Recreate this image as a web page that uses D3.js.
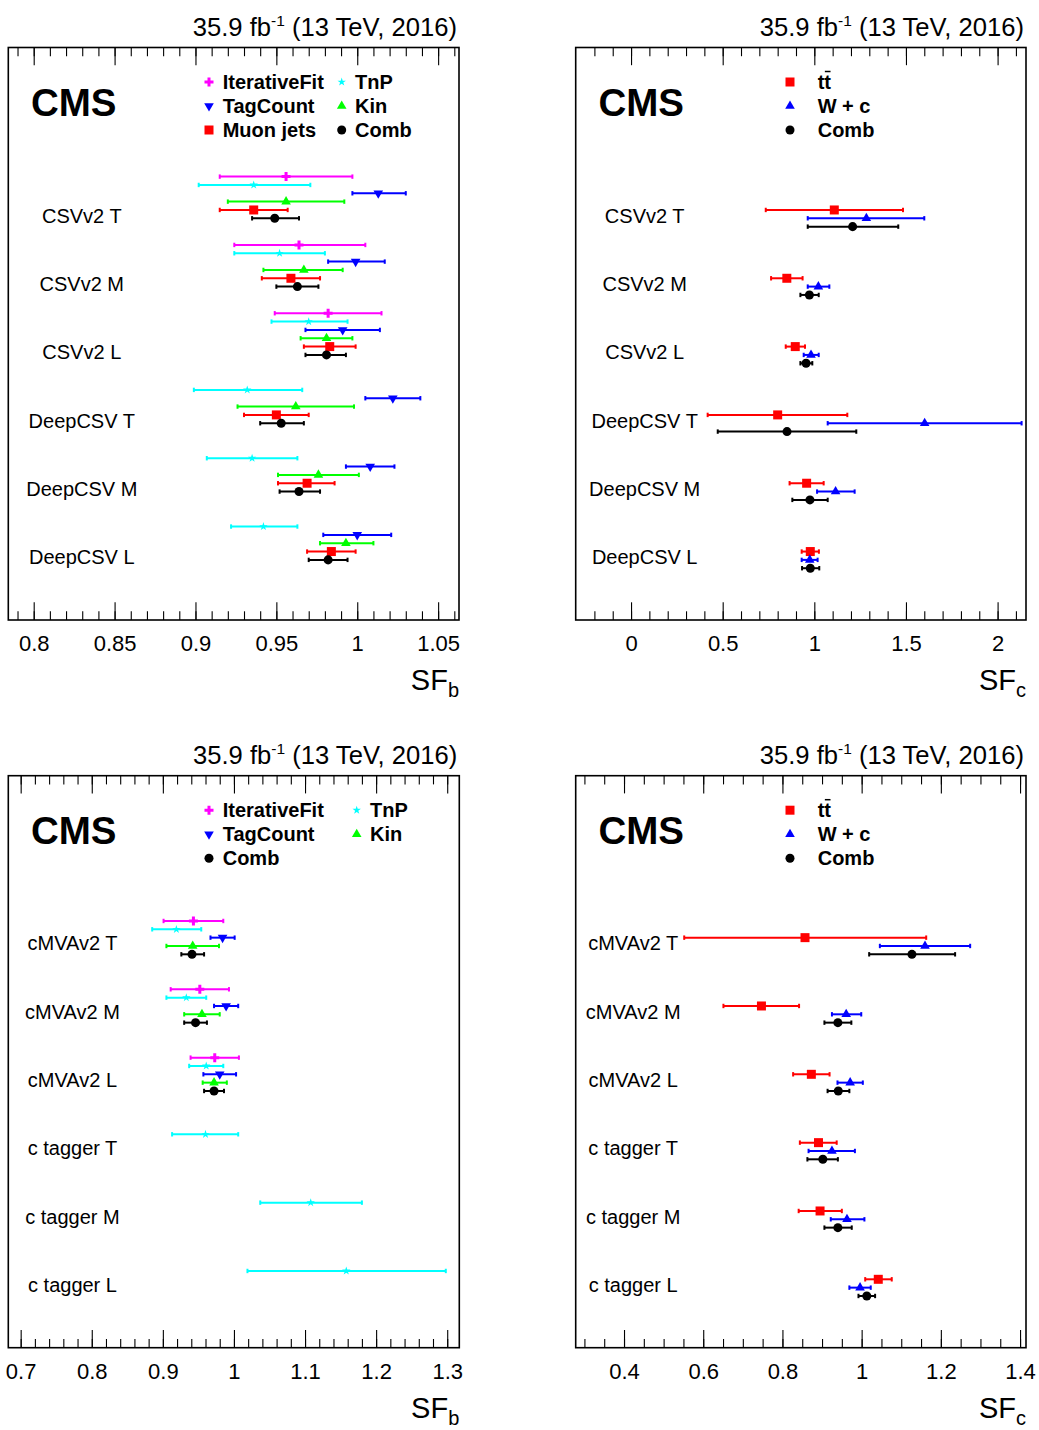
<!DOCTYPE html>
<html>
<head>
<meta charset="utf-8">
<script src="https://cdn.jsdelivr.net/npm/d3@7"></script>
<style>
  body { margin: 0; background: #fff; }
  text { font-family: "Liberation Sans", Arial, Helvetica, sans-serif; }
</style>
</head>
<body>
<div id="main"></div>
<script>
// categories
const catsTop = ["CSVv2 T", "CSVv2 M", "CSVv2 L", "DeepCSV T", "DeepCSV M", "DeepCSV L"];
const catsBot = ["cMVAv2 T", "cMVAv2 M", "cMVAv2 L", "c tagger T", "c tagger M", "c tagger L"];

// SF_b, top panel: [value, low, high], null = no measurement
const iterFitB1 = [[0.956, 0.915, 0.997], [0.964, 0.924, 1.005], [0.982, 0.949, 1.015], null, null, null];
const tnpB1 = [[0.936, 0.902, 0.971], [0.952, 0.924, 0.980], [0.970, 0.947, 0.994], [0.932, 0.899, 0.966], [0.935, 0.907, 0.963], [0.942, 0.922, 0.963]];
const tagCountB1 = [[1.013, 0.997, 1.030], [0.999, 0.982, 1.017], [0.991, 0.968, 1.014], [1.022, 1.005, 1.039], [1.008, 0.993, 1.023], [1.000, 0.979, 1.021]];
const kinB1 = [[0.956, 0.920, 0.992], [0.967, 0.942, 0.991], [0.981, 0.965, 0.997], [0.962, 0.926, 0.998], [0.976, 0.951, 1.001], [0.993, 0.977, 1.010]];
const muonB1 = [[0.936, 0.915, 0.957], [0.959, 0.941, 0.977], [0.983, 0.967, 0.999], [0.950, 0.930, 0.970], [0.969, 0.951, 0.986], [0.984, 0.969, 0.999]];
const combB1 = [[0.949, 0.935, 0.964], [0.963, 0.950, 0.976], [0.981, 0.968, 0.993], [0.953, 0.940, 0.967], [0.964, 0.952, 0.977], [0.982, 0.970, 0.994]];

// SF_c, top panel
const ttC1 = [[1.109, 0.735, 1.484], [0.850, 0.764, 0.936], [0.896, 0.844, 0.949], [0.800, 0.418, 1.180], [0.958, 0.865, 1.051], [0.978, 0.931, 1.025]];
const wcC1 = [[1.284, 0.964, 1.600], [1.022, 0.964, 1.082], [0.982, 0.942, 1.024], [1.602, 1.073, 2.131], [1.116, 1.015, 1.220], [0.975, 0.931, 1.018]];
const combC1 = [[1.209, 0.964, 1.458], [0.973, 0.924, 1.024], [0.955, 0.924, 0.989], [0.851, 0.473, 1.229], [0.976, 0.880, 1.073], [0.978, 0.933, 1.027]];

// SF_b, bottom panel
const iterFitB2 = [[0.943, 0.901, 0.985], [0.952, 0.911, 0.993], [0.973, 0.939, 1.007], null, null, null];
const tnpB2 = [[0.919, 0.885, 0.954], [0.933, 0.905, 0.961], [0.961, 0.937, 0.985], [0.960, 0.913, 1.006], [1.108, 1.037, 1.180], [1.158, 1.019, 1.298]];
const tagCountB2 = [[0.984, 0.967, 1.001], [0.989, 0.972, 1.006], [0.980, 0.957, 1.003], null, null, null];
const kinB2 = [[0.942, 0.905, 0.979], [0.955, 0.930, 0.980], [0.972, 0.956, 0.990], null, null, null];
const combB2 = [[0.941, 0.926, 0.958], [0.946, 0.930, 0.962], [0.972, 0.958, 0.986], null, null, null];

// SF_c, bottom panel
const ttC2 = [[0.857, 0.552, 1.163], [0.747, 0.651, 0.842], [0.873, 0.827, 0.919], [0.891, 0.844, 0.937], [0.895, 0.841, 0.950], [1.042, 1.009, 1.076]];
const wcC2 = [[1.160, 1.046, 1.274], [0.961, 0.925, 0.999], [0.971, 0.939, 1.003], [0.925, 0.866, 0.983], [0.963, 0.922, 1.007], [0.996, 0.969, 1.023]];
const combC2 = [[1.127, 1.019, 1.236], [0.940, 0.906, 0.974], [0.941, 0.914, 0.969], [0.902, 0.863, 0.940], [0.940, 0.906, 0.975], [1.013, 0.992, 1.034]];

const MAG = "#ff00ff", CYA = "#00ffff", BLU = "#0000ff", GRN = "#00ff00", RED = "#ff0000", BLK = "#000000";
const SLOT = 0.122; // spacing between methods inside one category

function range(a, b, step) {
  const n = Math.round((b - a) / step);
  return d3.range(n + 1).map(i => +(a + i * step).toFixed(4));
}

const panels = [
  { x0: 8.3, x1: 459, y0: 47.5, y1: 620, xdom: [0.7843, 1.0629], major: range(0.8, 1.05, 0.05), minor: range(0.79, 1.06, 0.01),
    ydom: [-1.89, 6.49], cats: catsTop, labelDx: 73.5, labelDy: 0.673, sub: "b",
    legCols: [[200.7, 214.4], [333.4, 346.7]],
    series: [
      { name: "IterativeFit", sym: "plus", color: MAG, slot: 0, data: iterFitB1, leg: [0, 0] },
      { name: "TnP", sym: "star", color: CYA, slot: 1, data: tnpB1, leg: [1, 0] },
      { name: "TagCount", sym: "tdown", color: BLU, slot: 2, data: tagCountB1, leg: [0, 1] },
      { name: "Kin", sym: "tup", color: GRN, slot: 3, data: kinB1, leg: [1, 1] },
      { name: "Muon jets", sym: "square", color: RED, slot: 4, data: muonB1, leg: [0, 2] },
      { name: "Comb", sym: "circle", color: BLK, slot: 5, data: combB1, leg: [1, 2] }
    ] },
  { x0: 575.7, x1: 1026, y0: 47.5, y1: 620, xdom: [-0.302, 2.155], major: range(0, 2, 0.5), minor: range(-0.2, 2.1, 0.1),
    ydom: [-1.89, 6.49], cats: catsTop, labelDx: 69, labelDy: 0.673, sub: "c",
    legCols: [[214.3, 242]],
    series: [
      { name: "tt", sym: "square", color: RED, slot: 4, data: ttC1, leg: [0, 0], bar: true },
      { name: "W + c", sym: "tup", color: BLU, slot: 5, data: wcC1, leg: [0, 1] },
      { name: "Comb", sym: "circle", color: BLK, slot: 6, data: combC1, leg: [0, 2] }
    ] },
  { x0: 8.3, x1: 459.3, y0: 775.7, y1: 1347.7, xdom: [0.6826, 1.317], major: range(0.7, 1.3, 0.1), minor: range(0.7, 1.3, 0.02),
    ydom: [-2.126, 6.245], cats: catsBot, labelDx: 64.2, labelDy: 0.43, sub: "b",
    legCols: [[200.7, 214.4], [348.4, 361.7]],
    series: [
      { name: "IterativeFit", sym: "plus", color: MAG, slot: 0, data: iterFitB2, leg: [0, 0] },
      { name: "TnP", sym: "star", color: CYA, slot: 1, data: tnpB2, leg: [1, 0] },
      { name: "TagCount", sym: "tdown", color: BLU, slot: 2, data: tagCountB2, leg: [0, 1] },
      { name: "Kin", sym: "tup", color: GRN, slot: 3, data: kinB2, leg: [1, 1] },
      { name: "Comb", sym: "circle", color: BLK, slot: 4, data: combB2, leg: [0, 2] }
    ] },
  { x0: 575.7, x1: 1026, y0: 775.7, y1: 1347.7, xdom: [0.278, 1.415], major: range(0.4, 1.4, 0.2), minor: range(0.3, 1.4, 0.05),
    ydom: [-2.126, 6.245], cats: catsBot, labelDx: 57.5, labelDy: 0.43, sub: "c",
    legCols: [[214.3, 242]],
    series: [
      { name: "tt", sym: "square", color: RED, slot: 2, data: ttC2, leg: [0, 0], bar: true },
      { name: "W + c", sym: "tup", color: BLU, slot: 3, data: wcC2, leg: [0, 1] },
      { name: "Comb", sym: "circle", color: BLK, slot: 4, data: combC2, leg: [0, 2] }
    ] }
];

const symbols = {
  plus: d3.symbol(d3.symbolCross, 45)(),
  star: d3.symbol(d3.symbolStar, 22)(),
  tup: d3.symbol(d3.symbolTriangle, 40)(),
  tdown: d3.symbol(d3.symbolTriangle, 40)(),
  square: d3.symbol(d3.symbolSquare, 81)(),
  circle: d3.symbol(d3.symbolCircle, 64)()
};
function marker(g, sym, color, x, y) {
  g.append("path").attr("d", symbols[sym]).attr("fill", color)
    .attr("transform", `translate(${x},${y})` + (sym === "tdown" ? " rotate(180)" : ""));
}

const svg = d3.select("#main").append("svg").attr("width", 1039).attr("height", 1430);
const fmt = v => String(+v.toFixed(3));

panels.forEach(p => {
  const g = svg.append("g");
  const x = d3.scaleLinear().domain(p.xdom).range([p.x0, p.x1]);
  const y = d3.scaleLinear().domain(p.ydom).range([p.y0, p.y1]);

  // axes, ticks pointing inwards
  const bot = g.append("g").attr("transform", `translate(0,${p.y1})`);
  bot.append("g").call(d3.axisBottom(x).tickValues(p.minor).tickSize(-8.7).tickFormat(""));
  bot.append("g").call(d3.axisBottom(x).tickValues(p.major).tickSize(-17.7).tickPadding(15.4).tickFormat(fmt))
    .selectAll("text").attr("font-size", 22).attr("font-family", "Liberation Sans, Arial, sans-serif").attr("fill", "#000");
  const top = g.append("g").attr("transform", `translate(0,${p.y0})`);
  top.append("g").call(d3.axisTop(x).tickValues(p.minor).tickSize(-8.7).tickFormat(""));
  top.append("g").call(d3.axisTop(x).tickValues(p.major).tickSize(-17.7).tickFormat(""));
  g.selectAll(".domain").remove();
  g.selectAll(".tick line").attr("stroke", "#000").attr("stroke-width", 1.1);

  g.append("rect").attr("x", p.x0).attr("y", p.y0).attr("width", p.x1 - p.x0).attr("height", p.y1 - p.y0)
    .attr("fill", "none").attr("stroke", "#000").attr("stroke-width", 1.6);

  // header
  const hd = g.append("text").attr("x", p.x1 - 2).attr("y", p.y0 - 12).attr("text-anchor", "end").attr("font-size", 25.6);
  hd.append("tspan").text("35.9 fb");
  hd.append("tspan").attr("font-size", 15.5).attr("dy", -10).text("-1");
  hd.append("tspan").attr("dy", 10).text(" (13 TeV, 2016)");

  // axis title
  const at = g.append("text").attr("x", p.x1).attr("y", p.y1 + 70).attr("text-anchor", "end").attr("font-size", 29);
  at.append("tspan").text("SF");
  at.append("tspan").attr("font-size", 20).attr("dy", 7).text(p.sub);

  // CMS
  g.append("text").attr("x", p.x0 + 22.7).attr("y", p.y0 + 68).attr("font-size", 38.5).attr("font-weight", "bold").text("CMS");

  // legend
  p.series.forEach(s => {
    const [c, r] = s.leg;
    const by = p.y0 + 41 + 24 * r;
    marker(g, s.sym, s.color, p.x0 + p.legCols[c][0], by - 6.5);
    const t = g.append("text").attr("x", p.x0 + p.legCols[c][1]).attr("y", by)
      .attr("font-size", 20).attr("font-weight", "bold").text(s.name);
    if (s.bar) {
      const n = t.node();
      const a = n.getStartPositionOfChar(1).x, b = n.getEndPositionOfChar(1).x;
      g.append("line").attr("x1", a + 0.5).attr("x2", b - 0.5).attr("y1", by - 17).attr("y2", by - 17)
        .attr("stroke", "#000").attr("stroke-width", 1.5);
    }
  });

  // category labels
  g.selectAll(".cat").data(p.cats).enter().append("text")
    .attr("x", p.x0 + p.labelDx).attr("y", (d, i) => y(i + p.labelDy))
    .attr("text-anchor", "middle").attr("font-size", 20).text(d => d);

  // measurements
  p.series.forEach(s => {
    const pts = s.data.map((d, i) => d && { v: d[0], lo: d[1], hi: d[2], yy: y(i + s.slot * SLOT) }).filter(d => d);
    const sg = g.append("g");
    pts.forEach(d => {
      sg.append("line").attr("x1", x(d.lo)).attr("x2", x(d.hi)).attr("y1", d.yy).attr("y2", d.yy)
        .attr("stroke", s.color).attr("stroke-width", 2);
      [d.lo, d.hi].forEach(e => sg.append("line").attr("x1", x(e)).attr("x2", x(e))
        .attr("y1", d.yy - 2.2).attr("y2", d.yy + 2.2).attr("stroke", s.color).attr("stroke-width", 2));
      marker(sg, s.sym, s.color, x(d.v), d.yy);
    });
  });
});
</script>
</body>
</html>
